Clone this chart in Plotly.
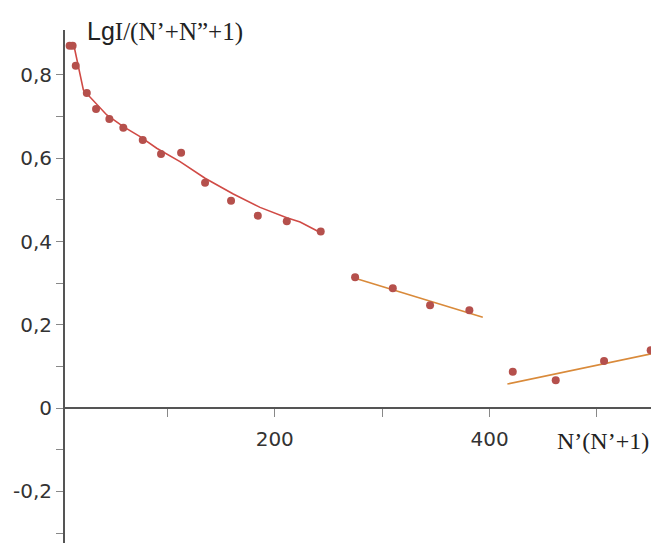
import plotly.graph_objects as go

# ---- data ----
# measured points (segment 1: low N', segment 2, segment 3)
x_pts1 = [9.0, 11.8, 14.7, 25.0, 33.6, 46.0, 59.0, 77.1, 94.1, 112.8, 135.1, 159.3, 184.2, 211.2, 242.8]
y_pts1 = [0.870, 0.870, 0.822, 0.757, 0.718, 0.694, 0.673, 0.644, 0.610, 0.613, 0.541, 0.498, 0.462, 0.449, 0.424]

x_pts2 = [274.8, 309.9, 344.6, 381.2]
y_pts2 = [0.314, 0.288, 0.247, 0.235]

x_pts3 = [421.6, 461.6, 506.6, 550.0]
y_pts3 = [0.087, 0.067, 0.113, 0.139]

# fitted curves
x_fit1 = [12.4, 21.8, 43.6, 59.0, 74.6, 90.1, 111.8, 135.1, 161.4, 186.3, 211.2, 223.6, 242.8]
y_fit1 = [0.878, 0.764, 0.704, 0.676, 0.652, 0.624, 0.592, 0.552, 0.514, 0.482, 0.457, 0.447, 0.421]

x_fit2 = [274.8, 393.7]
y_fit2 = [0.312, 0.218]

x_fit3 = [416.6, 552.0]
y_fit3 = [0.0577, 0.131]

# axis ticks
y_tickvals = [-0.3, -0.2, -0.1, 0.0, 0.1, 0.2, 0.3, 0.4, 0.5, 0.6, 0.7, 0.8]
y_ticktext = ["", "-0,2", "", "0", "", "0,2", "", "0,4", "", "0,6", "", "0,8"]
x_tickvals = [100, 200, 300, 400, 500]
x_ticktext = ["", "200", "", "400", ""]

x_range = [4.7, 550.3]
y_range = [-0.324, 0.908]

marker_color = "#b5504c"
line1_color = "#d04a45"
line23_color = "#d98a3a"
axis_color = "#555555"

fig = go.Figure()

fig.add_trace(go.Scatter(x=x_fit1, y=y_fit1, mode="lines",
                         line=dict(color=line1_color, width=1.6),
                         hoverinfo="skip"))
fig.add_trace(go.Scatter(x=x_fit2, y=y_fit2, mode="lines",
                         line=dict(color=line23_color, width=1.6), hoverinfo="skip"))
fig.add_trace(go.Scatter(x=x_fit3, y=y_fit3, mode="lines",
                         line=dict(color=line23_color, width=1.6), hoverinfo="skip"))

for xs, ys in [(x_pts1, y_pts1), (x_pts2, y_pts2), (x_pts3, y_pts3)]:
    fig.add_trace(go.Scatter(x=xs, y=ys, mode="markers",
                             marker=dict(color=marker_color, size=8, line=dict(width=0)),
                             cliponaxis=False))

zero_pos = (0 - y_range[0]) / (y_range[1] - y_range[0])

fig.update_layout(
    width=651, height=543,
    margin=dict(l=65, r=0, t=30, b=0),
    paper_bgcolor="white", plot_bgcolor="white",
    showlegend=False,
    font=dict(family="DejaVu Sans", size=20, color="#333333"),
    xaxis=dict(range=x_range, showgrid=False, zeroline=False,
               showline=True, linecolor=axis_color, linewidth=2,
               anchor="free", position=zero_pos,
               tickmode="array", tickvals=x_tickvals, ticktext=x_ticktext,
               ticks="outside", ticklen=8, tickwidth=1, tickcolor="#888888",
               ticklabelstandoff=5,
               tickfont=dict(family="DejaVu Sans", size=20, color="#333333")),
    yaxis=dict(range=y_range, showgrid=False, zeroline=False,
               showline=True, linecolor=axis_color, linewidth=2,
               tickmode="array", tickvals=y_tickvals, ticktext=y_ticktext,
               ticks="outside", ticklen=7, tickwidth=1, tickcolor="#888888",
               tickfont=dict(family="DejaVu Sans", size=20, color="#333333")),
    annotations=[
        dict(text="<span style='font-family:Liberation Sans'>Lg</span>I/(N’+N”+1)",
             xref="paper", yref="paper", x=(85 - 65) / 586, y=1 + (30 - 31) / 513,
             xanchor="left", yanchor="middle", showarrow=False,
             font=dict(family="Liberation Serif", size=25, color="#222222")),
        dict(text="N’(N’+1)",
             xref="paper", yref="paper", x=1.0, y=zero_pos - (441 - 408) / 513,
             xanchor="right", yanchor="middle", showarrow=False,
             font=dict(family="Liberation Serif", size=24, color="#222222")),
    ],
)

fig.write_html("out.html", config={"displayModeBar": False},
               post_script="document.body.style.margin='0';document.body.style.padding='0';")
